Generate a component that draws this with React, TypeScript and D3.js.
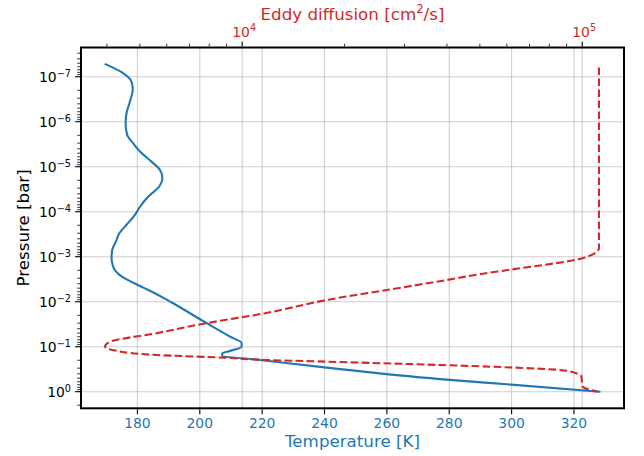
import React from 'react';
import * as d3 from 'd3';

// temperature profile (bar, K)
const pressureT = [5.19e-8, 8.3e-8, 1.29e-7, 1.95e-7, 3.55e-7, 6.5e-7, 1.07e-6, 1.95e-6, 3.0e-6, 4.6e-6,
  7.8e-6, 1.17e-5, 1.78e-5, 2.75e-5, 4.6e-5, 7.8e-5, 1.17e-4, 1.95e-4, 3.0e-4, 4.6e-4,
  7.1e-4, 1.07e-3, 1.66e-3, 2.75e-3, 4.3e-3, 5.5e-3, 8.3e-3, 1.07e-2, 3.0e-2, 6.0e-2,
  8.3e-2, 0.1, 0.124, 0.141, 0.158, 0.197, 0.292, 0.525, 0.684, 1.0];
const temperature = [169.5, 175.4, 178.1, 178.5, 177.6, 176.5, 176.2, 176.7, 178.6, 180.8,
  184.6, 187.2, 188.0, 187.0, 183.5, 180.8, 179.2, 176.5, 174.2, 173.1,
  171.9, 171.7, 172.2, 174.9, 180.3, 183.5, 188.5, 191.3, 202.2, 209.7,
  213.4, 213.4, 209.7, 207.2, 207.2, 219.3, 240.7, 277.1, 298.5, 328.5];

// eddy diffusion profile (bar, cm2/s)
const pressureK = [6.2e-8, 6.5e-4, 8.3e-4, 1.07e-3, 1.95e-3, 2.45e-3, 3.3e-3, 5.5e-3, 8.9e-3, 1.82e-2,
  3.0e-2, 5.0e-2, 7.8e-2, 0.1, 0.124, 0.153, 0.175, 0.197, 0.215, 0.255,
  0.287, 0.329, 0.378, 0.463, 0.746, 0.885, 1.0];
const eddy = [1.12e5, 1.12e5, 1.09e5, 1.007e5, 6.12e4, 5.0e4, 3.99e4, 2.66e4, 1.81e4, 1.16e4,
  7.85e3, 5.6e3, 4.08e3, 3.95e3, 4.28e3, 5.6e3, 8.8e3, 1.17e4, 1.77e4, 3.81e4,
  6.0e4, 8.6e4, 9.5e4, 9.95e4, 1.0e5, 1.04e5, 1.11e5];

const tempTicks = [180, 200, 220, 240, 260, 280, 300, 320];
const pressureExps = [-7, -6, -5, -4, -3, -2, -1, 0];
const eddyExps = [4, 5];

const BLUE = '#1f77b4';
const RED = '#d62728';
const FONT = 'DejaVu Sans, sans-serif';

const L = 81, R = 624, T = 47.5, B = 408.3;

export default function App() {
  const x = d3.scaleLinear().domain([161.9, 336.05]).range([L, R]);
  const xTop = d3.scaleLog().domain([3357, 132700]).range([L, R]);
  const y = d3.scaleLog().domain([2.24e-8, 2.34]).range([T, B]);

  const tLine = d3.line<number>()
    .x((_, i) => x(temperature[i]))
    .y((p) => y(p))
    .curve(d3.curveMonotoneY);
  const kLine = d3.line<number>()
    .x((_, i) => xTop(eddy[i]))
    .y((p) => y(p))
    .curve(d3.curveMonotoneY);

  const yMinor: number[] = [];
  for (let e = -8; e <= 0; e++) {
    for (let m = 2; m <= 9; m++) {
      const v = m * Math.pow(10, e);
      if (v > y.domain()[0] && v < y.domain()[1]) yMinor.push(v);
    }
  }
  const topMinor: number[] = [];
  for (let e = 3; e <= 5; e++) {
    for (let m = 2; m <= 9; m++) {
      const v = m * Math.pow(10, e);
      if (v > xTop.domain()[0] && v < xTop.domain()[1]) topMinor.push(v);
    }
  }

  const grid = { stroke: '#b0b0b0', strokeWidth: 1.1, opacity: 0.6 };

  return (
    <svg width={644} height={456} style={{ position: 'absolute', left: 0, top: 0 }}
      fontFamily={FONT}>
      <rect width={644} height={456} fill="#fff" />

      {/* grid */}
      {tempTicks.map((t) => (
        <line key={'gx' + t} x1={x(t)} x2={x(t)} y1={T} y2={B} {...grid} />
      ))}
      {pressureExps.map((e) => (
        <line key={'gy' + e} x1={L} x2={R} y1={y(Math.pow(10, e))} y2={y(Math.pow(10, e))} {...grid} />
      ))}
      {eddyExps.map((e) => (
        <line key={'gk' + e} x1={xTop(Math.pow(10, e))} x2={xTop(Math.pow(10, e))} y1={T} y2={B} {...grid} />
      ))}

      {/* curves */}
      <path d={tLine(pressureT) || ''} fill="none" stroke={BLUE} strokeWidth={2.08} />
      <path d={kLine(pressureK) || ''} fill="none" stroke={RED} strokeWidth={2.08}
        strokeDasharray="7.7 3.3" />

      {/* frame */}
      <rect x={L} y={T} width={R - L} height={B - T} fill="none" stroke="#000" strokeWidth={2} />

      {/* bottom axis */}
      {tempTicks.map((t) => (
        <g key={'bt' + t}>
          <line x1={x(t)} x2={x(t)} y1={B + 1} y2={B + 5.9} stroke="#000" strokeWidth={1.1} />
          <text x={x(t)} y={428} textAnchor="middle" fontSize={13.9} fill={BLUE}>{t}</text>
        </g>
      ))}
      <text x={(L + R) / 2} y={447} textAnchor="middle" fontSize={16.7} fill={BLUE}>Temperature [K]</text>

      {/* left axis */}
      {yMinor.map((v, i) => (
        <line key={'ym' + i} x1={L - 1} x2={L - 3.8} y1={y(v)} y2={y(v)} stroke="#000" strokeWidth={0.8} />
      ))}
      {pressureExps.map((e) => (
        <g key={'yl' + e}>
          <line x1={L - 1} x2={L - 5.9} y1={y(Math.pow(10, e))} y2={y(Math.pow(10, e))} stroke="#000" strokeWidth={1.1} />
          <text x={71} y={y(Math.pow(10, e)) + 5.5} textAnchor="end" fontSize={13.9} fill="#000">
            10<tspan dy={-5.5} fontSize={9.7}>{e < 0 ? '\u2212' + Math.abs(e) : String(e)}</tspan>
          </text>
        </g>
      ))}
      <text transform={`translate(29,${(T + B) / 2}) rotate(-90)`} textAnchor="middle" fontSize={16.7}
        fill="#000">Pressure [bar]</text>

      {/* top axis */}
      {topMinor.map((v, i) => (
        <line key={'tm' + i} x1={xTop(v)} x2={xTop(v)} y1={T - 1} y2={T - 3.8} stroke="#000" strokeWidth={0.8} />
      ))}
      {eddyExps.map((e) => (
        <g key={'tl' + e}>
          <line x1={xTop(Math.pow(10, e))} x2={xTop(Math.pow(10, e))} y1={T - 1} y2={T - 5.9} stroke="#000" strokeWidth={1.1} />
          <text x={xTop(Math.pow(10, e)) + 2} y={36.5} textAnchor="middle" fontSize={13.9} fill={RED}>
            10<tspan dy={-5.5} fontSize={9.7}>{e}</tspan>
          </text>
        </g>
      ))}
      <text x={(L + R) / 2} y={19.5} textAnchor="middle" fontSize={16.7} fill={RED}>
        Eddy diffusion [cm<tspan dy={-6.5} fontSize={11.7}>2</tspan><tspan dy={6.5}>/s]</tspan>
      </text>
    </svg>
  );
}
